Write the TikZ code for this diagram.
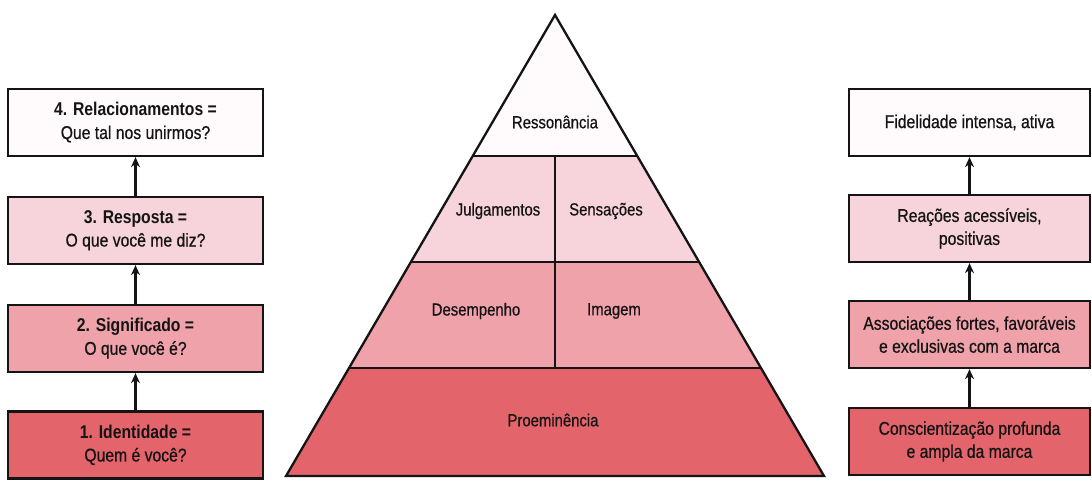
\documentclass[tikz,border=0pt]{standalone}
\usepackage{fontspec}
\setmainfont{Liberation Sans}[FakeStretch=0.85, UprightFeatures={FakeBold=0.6}]
\usetikzlibrary{calc,arrows.meta}
\definecolor{cwhite}{HTML}{FFFBFC}
\definecolor{cpinkA}{HTML}{F7D3DB}
\definecolor{cpinkB}{HTML}{F0A2AB}
\definecolor{cpinkC}{HTML}{E3646B}
\definecolor{ink}{HTML}{141414}
\tikzset{
  lbox/.style={draw=ink, line width=2.3pt, minimum width=255pt, minimum height=67pt, align=center, inner sep=2pt, font=\fontsize{18.5}{23}\selectfont, text=ink},
  rbox/.style={lbox, minimum width=241pt},
  plabel/.style={font=\fontsize{17.5}{20}\selectfont, text=ink},
  uparrow/.style={draw=ink, line width=2.2pt, -{Stealth[length=10pt,width=9pt]}},
  pline/.style={draw=ink, line width=2.3pt, line join=miter}
}
\begin{document}
\begin{tikzpicture}[x=1pt,y=-1pt]
\useasboundingbox (0,0) rectangle (1092,480);
% left column
\node[lbox, fill=cwhite] (l4) at (135.5,122.5) {\textbf{4. Relacionamentos =}\\Que tal nos unirmos?};
\node[lbox, fill=cpinkA] (l3) at (135.5,230.5) {\textbf{3. Resposta =}\\O que você me diz?};
\node[lbox, fill=cpinkB] (l2) at (135.5,338.5) {\textbf{2. Significado =}\\O que você é?};
\node[lbox, fill=cpinkC] (l1) at (135.5,445) {\textbf{1. Identidade =}\\Quem é você?};
\draw[uparrow] (l1.north) -- (l2.south);
\draw[uparrow] (l2.north) -- (l3.south);
\draw[uparrow] (l3.north) -- (l4.south);
% right column
\node[rbox, fill=cwhite] (r4) at (969.5,122.5) {Fidelidade intensa, ativa};
\node[rbox, fill=cpinkA] (r3) at (969.5,228.5) {Reações acessíveis,\\positivas};
\node[rbox, fill=cpinkB] (r2) at (969.5,334.5) {Associações fortes, favoráveis\\e exclusivas com a marca};
\node[rbox, fill=cpinkC] (r1) at (969.5,441.5) {Conscientização profunda\\e ampla da marca};
\draw[uparrow] (r1.north) -- (r2.south);
\draw[uparrow] (r2.north) -- (r3.south);
\draw[uparrow] (r3.north) -- (r4.south);
% pyramid
\coordinate (A) at (555,15);
\coordinate (BL) at (286,476);
\coordinate (BR) at (824,476);
\coordinate (L1) at ($(A)!0.3059!(BL)$);
\coordinate (R1) at ($(A)!0.3059!(BR)$);
\coordinate (L2) at ($(A)!0.5358!(BL)$);
\coordinate (R2) at ($(A)!0.5358!(BR)$);
\coordinate (L3) at ($(A)!0.7657!(BL)$);
\coordinate (R3) at ($(A)!0.7657!(BR)$);
\coordinate (V1) at (555,156);
\coordinate (V2) at (555,368);
\fill[cwhite] (A) -- (L1) -- (R1) -- cycle;
\fill[cpinkA] (L1) -- (R1) -- (R2) -- (L2) -- cycle;
\fill[cpinkB] (L2) -- (R2) -- (R3) -- (L3) -- cycle;
\fill[cpinkC] (L3) -- (R3) -- (BR) -- (BL) -- cycle;
\draw[pline] (L1) -- (R1);
\draw[pline] (L2) -- (R2);
\draw[pline] (L3) -- (R3);
\draw[pline] (V1) -- (V2);
\draw[pline] (A) -- (BR) -- (BL) -- cycle;
\node[plabel] (res) at (555,122) {Ressonância};
\node[plabel] (jul) at (498,211) {Julgamentos};
\node[plabel] (sen) at (606,211) {Sensações};
\node[plabel] (des) at (476,311) {Desempenho};
\node[plabel] (ima) at (614,311) {Imagem};
\node[plabel] (pro) at (553,420) {Proeminência};
\end{tikzpicture}
\end{document}
